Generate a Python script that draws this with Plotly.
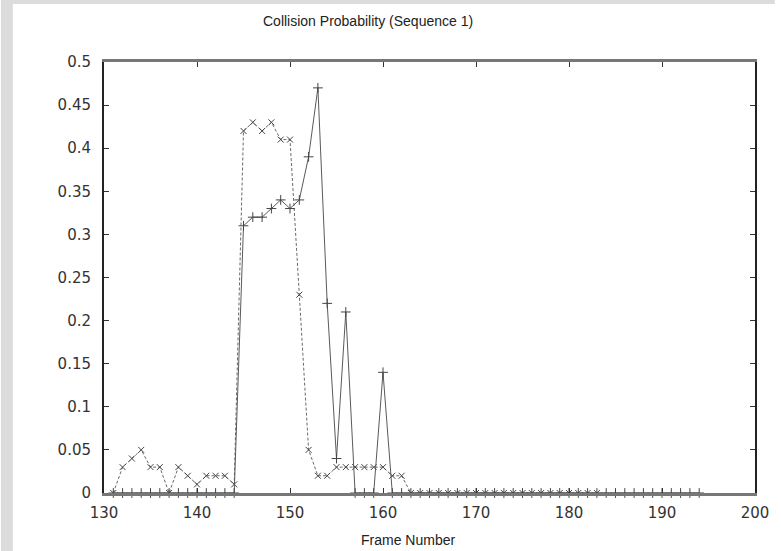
import plotly.graph_objects as go

frames_a = list(range(131, 184))
prob_a = [0, 0.03, 0.04, 0.05, 0.03, 0.03, 0, 0.03, 0.02, 0.01,
          0.02, 0.02, 0.02, 0.01, 0.42, 0.43, 0.42, 0.43, 0.41, 0.41,
          0.23, 0.05, 0.02, 0.02, 0.03, 0.03, 0.03, 0.03, 0.03, 0.03,
          0.02, 0.02] + [0] * 21

frames_b = list(range(131, 195))
prob_b = [0] * 14 + [0.31, 0.32, 0.32, 0.33, 0.34, 0.33, 0.34, 0.39, 0.47, 0.22,
                     0.04, 0.21, 0, 0, 0, 0.14] + [0] * 34

x_ticks = [130, 140, 150, 160, 170, 180, 190, 200]
y_ticks = [0, 0.05, 0.1, 0.15, 0.2, 0.25, 0.3, 0.35, 0.4, 0.45, 0.5]
y_labels = ["0", "0.05", "0.1", "0.15", "0.2", "0.25", "0.3", "0.35", "0.4", "0.45", "0.5"]

W, H = 781, 551
L, R, T, B = 104, 20, 62, 58
pw, ph = W - L - R, H - T - B

fig = go.Figure()
fig.add_trace(go.Scatter(
    x=frames_a, y=prob_a, mode="lines+markers",
    line=dict(color="#6a6a6a", width=1, dash="3px,2px"),
    marker=dict(symbol="x-thin", size=6, line=dict(color="#444444", width=1)),
    showlegend=False, cliponaxis=False))
fig.add_trace(go.Scatter(
    x=frames_b, y=prob_b, mode="lines+markers",
    line=dict(color="#5a5a5a", width=1),
    marker=dict(symbol="cross-thin", size=7, line=dict(color="#444444", width=1)),
    showlegend=False, cliponaxis=False))

tick_font = dict(family="DejaVu Sans, Liberation Sans, sans-serif", size=15, color="#333333")
text_font = dict(family="Liberation Sans, Arial, sans-serif", size=14, color="#222222")

fig.update_layout(
    width=W, height=H,
    margin=dict(l=L, r=R, t=T, b=B),
    paper_bgcolor="white", plot_bgcolor="white",
    font=text_font,
    shapes=[
        dict(type="rect", xref="paper", yref="paper",
             x0=-L / pw, x1=(12 - L) / pw, y0=-B / ph, y1=(ph + T) / ph,
             fillcolor="#dcdcdc", line=dict(width=0), layer="below"),
        dict(type="rect", xref="paper", yref="paper",
             x0=-L / pw, x1=(W - L) / pw, y0=(ph + T - 4) / ph, y1=(ph + T) / ph,
             fillcolor="#dcdcdc", line=dict(width=0), layer="below"),
    ],
    annotations=[
        dict(text="Collision Probability (Sequence 1)", xref="paper", yref="paper",
             x=(370 - L) / pw, y=(H - B - 21) / ph, xanchor="center", yanchor="middle",
             showarrow=False, font=text_font),
        dict(text="Frame Number", xref="paper", yref="paper",
             x=(411 - L) / pw, y=-(540 - (H - B)) / ph, xanchor="center", yanchor="middle",
             showarrow=False, font=text_font),
    ],
)
fig.update_xaxes(
    range=[130, 200], tickvals=x_ticks, ticktext=[str(v) for v in x_ticks],
    ticks="inside", ticklen=5, tickcolor="#333333", tickwidth=1,
    showline=True, linecolor="#777777", linewidth=3, mirror="ticks",
    showgrid=False, zeroline=False, tickfont=tick_font, ticklabelstandoff=4)
fig.update_yaxes(
    range=[0, 0.5], tickvals=y_ticks, ticktext=y_labels,
    ticks="inside", ticklen=5, tickcolor="#333333", tickwidth=1,
    showline=True, linecolor="#222222", linewidth=2, mirror="ticks",
    showgrid=False, zeroline=False, tickfont=tick_font, ticklabelstandoff=8)

fig.write_html(
    "out.html", config={"displayModeBar": False},
    post_script=("document.body.style.margin='0';"
                 "document.body.style.overflow='hidden';"
                 "document.documentElement.style.overflow='hidden';"))
